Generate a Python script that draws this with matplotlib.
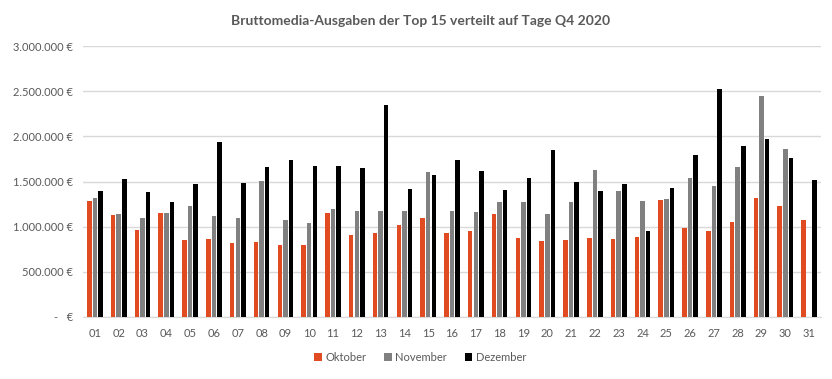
import numpy as np
import matplotlib.pyplot as plt

# Tage im Q4 2020
tage = [f"{d:02d}" for d in range(1, 32)]

# Bruttomedia-Ausgaben in Mio. EUR
oktober = [1.285, 1.133, 0.963, 1.155, 0.852, 0.863, 0.819, 0.830, 0.796, 0.796,
           1.152, 0.907, 0.930, 1.019, 1.096, 0.930, 0.952, 1.141, 0.874, 0.841,
           0.852, 0.874, 0.863, 0.885, 1.296, 0.985, 0.952, 1.052, 1.319, 1.230,
           1.074]
november = [1.320, 1.144, 1.100, 1.155, 1.233, 1.119, 1.096, 1.511, 1.074, 1.040,
            1.196, 1.174, 1.174, 1.174, 1.607, 1.174, 1.163, 1.274, 1.274, 1.141,
            1.274, 1.622, 1.396, 1.285, 1.307, 1.541, 1.452, 1.663, 2.452, 1.863,
            np.nan]
dezember = [1.400, 1.530, 1.385, 1.274, 1.467, 1.933, 1.485, 1.663, 1.733, 1.674,
            1.674, 1.652, 2.344, 1.419, 1.574, 1.741, 1.619, 1.407, 1.541, 1.852,
            1.496, 1.396, 1.474, 0.952, 1.430, 1.796, 2.519, 1.896, 1.974, 1.763,
            1.519]

serien = ['Oktober', 'November', 'Dezember']
farben = ['#E04B22', '#808080', '#000000']
werte = [np.array(oktober) * 1e6, np.array(november) * 1e6, np.array(dezember) * 1e6]

plt.rcParams['font.family'] = ['Lato', 'DejaVu Sans']
textfarbe = '#595959'

fig = plt.figure(figsize=(8.32, 3.79), dpi=100)
ax = fig.add_axes([0.0998, 0.1636, 0.887, 0.7150])

x = np.arange(len(tage))
breite = 0.19
abstand = 0.235
for i, (name, farbe, w) in enumerate(zip(serien, farben, werte)):
    ax.bar(x + (i - 1) * abstand, w, width=breite, color=farbe, label=name, zorder=3)

ax.set_xlim(-0.5, len(tage) - 0.5)
ax.set_ylim(0, 3e6)
ax.set_yticks(np.arange(0, 3.01e6, 0.5e6))


def euro(v):
    if v == 0:
        return '-   €'
    return f"{int(v):,} €".replace(',', '.')


ax.set_yticklabels([euro(v) for v in ax.get_yticks()])
ax.set_xticks(x)
ax.set_xticklabels(tage)

ax.grid(axis='y', color='#D9D9D9', linewidth=1, zorder=0)
for s in ['top', 'right', 'left']:
    ax.spines[s].set_visible(False)
ax.spines['bottom'].set_color('#D9D9D9')
ax.tick_params(axis='both', length=0, colors=textfarbe, labelsize=8)
ax.tick_params(axis='x', pad=8)
ax.tick_params(axis='y', pad=7)

fig.text(0.505, 0.945, 'Bruttomedia-Ausgaben der Top 15 verteilt auf Tage Q4 2020',
         ha='center', va='center', fontsize=10, fontweight='bold', color=textfarbe)

fig.legend(loc='center', bbox_to_anchor=(0.505, 0.058), ncol=3, frameon=False,
           fontsize=8, labelcolor=textfarbe, handlelength=0.7, handleheight=0.7,
           handletextpad=0.3, columnspacing=1.6)

fig.savefig('out.png', dpi=100)
